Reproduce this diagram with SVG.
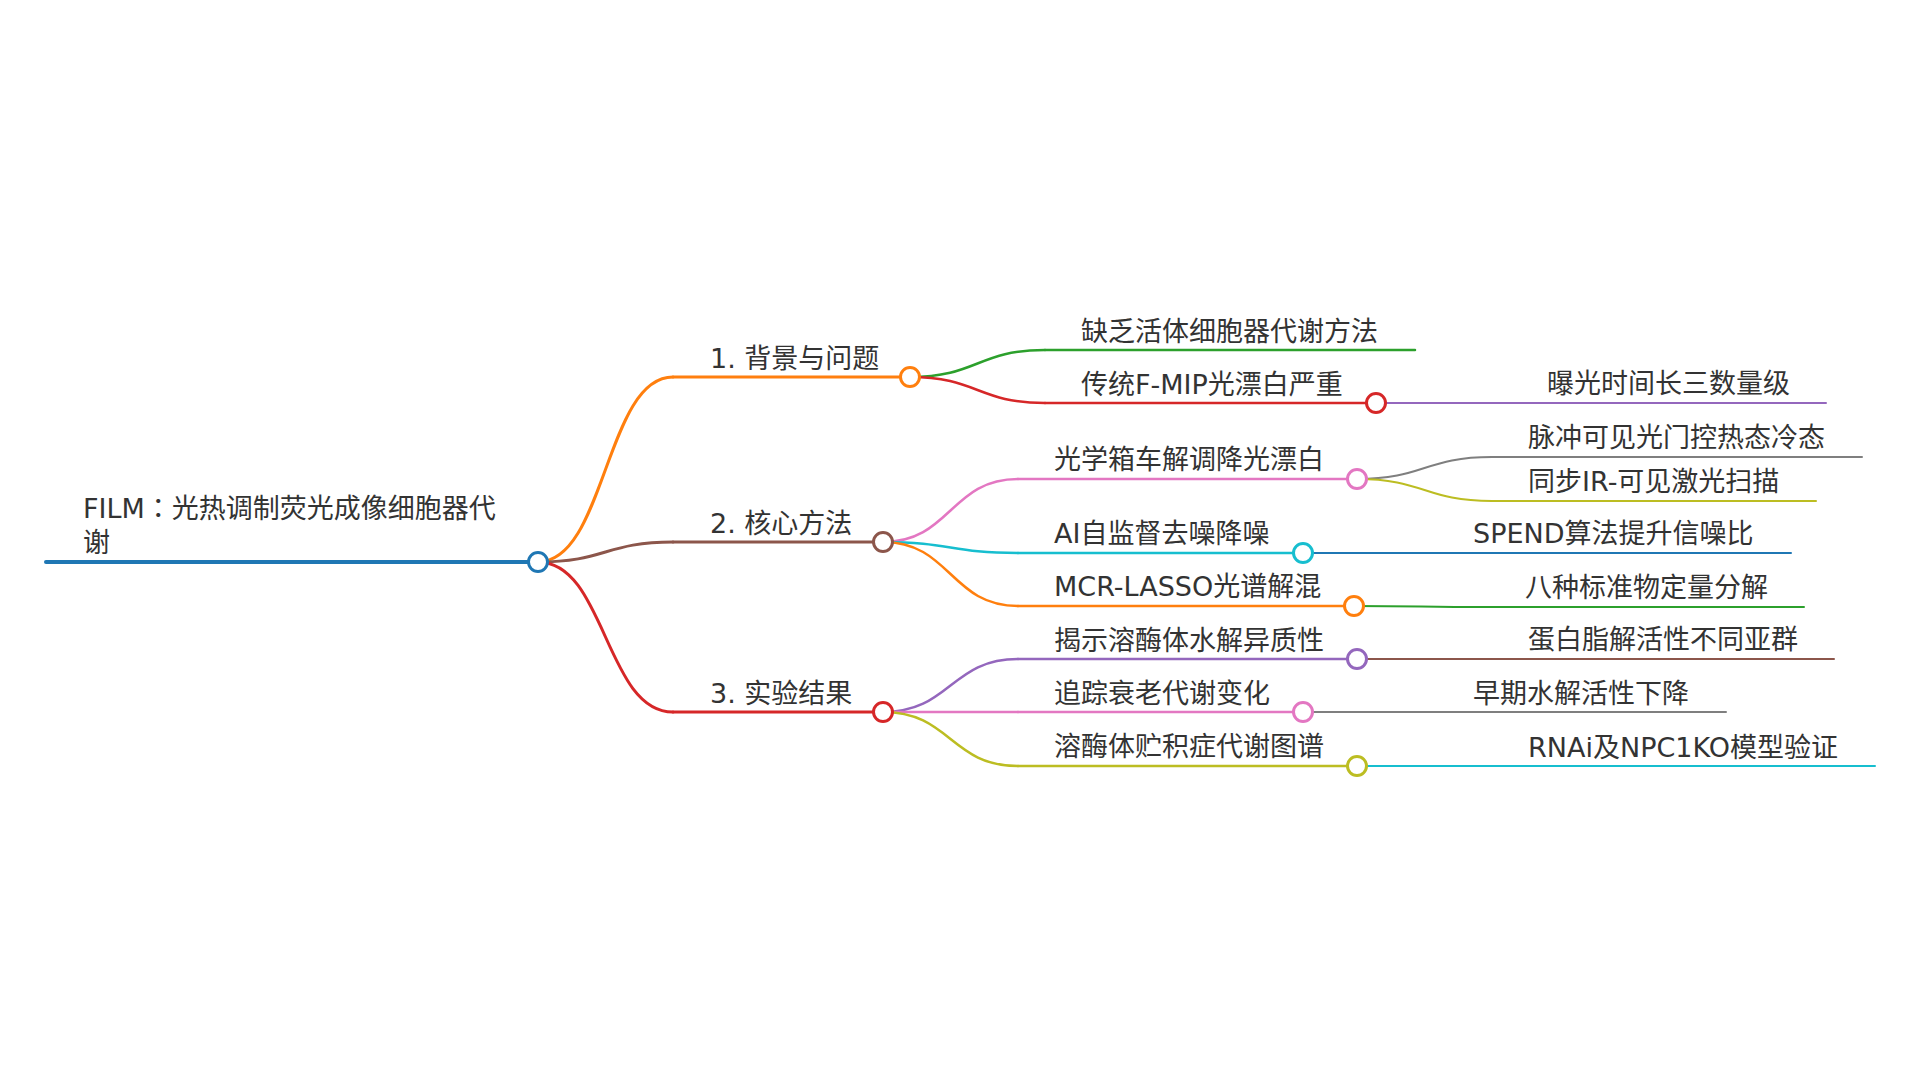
<svg xmlns="http://www.w3.org/2000/svg" width="1920" height="1080" viewBox="0 0 1920 1080">
<style>
text{font-family:"DejaVu Sans","Noto Sans CJK SC",sans-serif;font-size:27px;fill:#333}
.fw{font-family:"Noto Sans CJK JP","Noto Sans CJK SC",sans-serif}
path,line{fill:none;stroke-linecap:round}
circle{fill:#fff;stroke-width:3}
.l0{stroke-width:4}.l1{stroke-width:3}.l2{stroke-width:2.5}.l3{stroke-width:2}
.c0{stroke:#1f77b4}.c1{stroke:#ff7f0e}.c2{stroke:#2ca02c}.c3{stroke:#d62728}.c4{stroke:#9467bd}
.c5{stroke:#8c564b}.c6{stroke:#e377c2}.c7{stroke:#7f7f7f}.c8{stroke:#bcbd22}.c9{stroke:#17becf}
</style>
<rect width="1920" height="1080" fill="#fff"/>
<g id="connectors">
<path class="l1 c1" d="M538 562C605.5 562 605.5 377 673 377"/>
<path class="l1 c5" d="M538 562C605.5 562 605.5 542 673 542"/>
<path class="l1 c3" d="M538 562C605.5 562 605.5 712 673 712"/>
<path class="l2 c2" d="M910 377C977.5 377 977.5 350 1045 350"/>
<path class="l2 c3" d="M910 377C977.5 377 977.5 403 1045 403"/>
<path class="l3 c4" d="M1376 403H1510"/>
<path class="l2 c6" d="M883 542C950.5 542 950.5 479 1018 479"/>
<path class="l2 c9" d="M883 542C950.5 542 950.5 553 1018 553"/>
<path class="l2 c1" d="M883 542C950.5 542 950.5 606 1018 606"/>
<path class="l3 c7" d="M1357 479C1424.5 479 1424.5 457 1492 457"/>
<path class="l3 c8" d="M1357 479C1424.5 479 1424.5 501 1492 501"/>
<path class="l3 c0" d="M1303 553H1438"/>
<path class="l3 c2" d="M1354 606C1421 606 1421 607 1488 607"/>
<path class="l2 c4" d="M883 712C950.5 712 950.5 659 1018 659"/>
<path class="l2 c6" d="M883 712H1018"/>
<path class="l2 c8" d="M883 712C950.5 712 950.5 766 1018 766"/>
<path class="l3 c5" d="M1357 659H1492"/>
<path class="l3 c7" d="M1303 712H1438"/>
<path class="l3 c9" d="M1357 766H1492"/>
</g>
<g id="root">
<line class="l0 c0" x1="46" y1="562" x2="538" y2="562"/>
<text x="83" y="518">FILM<tspan class="fw">：</tspan>光热调制荧光成像细胞器代</text>
<text x="83" y="552">谢</text>
<circle class="c0" cx="538" cy="562" r="9.5"/>
</g>
<g id="n1">
<line class="l1 c1" x1="673" y1="377" x2="910" y2="377"/>
<text x="710" y="368">1. 背景与问题</text>
<circle class="c1" cx="910" cy="377" r="9.5"/>
</g>
<g id="n1-1">
<line class="l2 c2" x1="1045" y1="350" x2="1415" y2="350"/>
<text x="1081" y="341">缺乏活体细胞器代谢方法</text>
</g>
<g id="n1-2">
<line class="l2 c3" x1="1045" y1="403" x2="1376" y2="403"/>
<text x="1081" y="394">传统F-MIP光漂白严重</text>
<circle class="c3" cx="1376" cy="403" r="9.5"/>
</g>
<g id="n1-2-1">
<line class="l3 c4" x1="1510" y1="403" x2="1826" y2="403"/>
<text x="1547" y="393">曝光时间长三数量级</text>
</g>
<g id="n2">
<line class="l1 c5" x1="673" y1="542" x2="883" y2="542"/>
<text x="710" y="533">2. 核心方法</text>
<circle class="c5" cx="883" cy="542" r="9.5"/>
</g>
<g id="n2-1">
<line class="l2 c6" x1="1018" y1="479" x2="1357" y2="479"/>
<text x="1054" y="469">光学箱车解调降光漂白</text>
<circle class="c6" cx="1357" cy="479" r="9.5"/>
</g>
<g id="n2-1-1">
<line class="l3 c7" x1="1492" y1="457" x2="1862" y2="457"/>
<text x="1528" y="447">脉冲可见光门控热态冷态</text>
</g>
<g id="n2-1-2">
<line class="l3 c8" x1="1492" y1="501" x2="1816" y2="501"/>
<text x="1528" y="491">同步IR-可见激光扫描</text>
</g>
<g id="n2-2">
<line class="l2 c9" x1="1018" y1="553" x2="1303" y2="553"/>
<text x="1054" y="543">AI自监督去噪降噪</text>
<circle class="c9" cx="1303" cy="553" r="9.5"/>
</g>
<g id="n2-2-1">
<line class="l3 c0" x1="1438" y1="553" x2="1791" y2="553"/>
<text x="1473" y="543">SPEND算法提升信噪比</text>
</g>
<g id="n2-3">
<line class="l2 c1" x1="1018" y1="606" x2="1354" y2="606"/>
<text x="1054" y="596">MCR-LASSO光谱解混</text>
<circle class="c1" cx="1354" cy="606" r="9.5"/>
</g>
<g id="n2-3-1">
<line class="l3 c2" x1="1488" y1="607" x2="1804" y2="607"/>
<text x="1525" y="597">八种标准物定量分解</text>
</g>
<g id="n3">
<line class="l1 c3" x1="673" y1="712" x2="883" y2="712"/>
<text x="710" y="703">3. 实验结果</text>
<circle class="c3" cx="883" cy="712" r="9.5"/>
</g>
<g id="n3-1">
<line class="l2 c4" x1="1018" y1="659" x2="1357" y2="659"/>
<text x="1054" y="650">揭示溶酶体水解异质性</text>
<circle class="c4" cx="1357" cy="659" r="9.5"/>
</g>
<g id="n3-1-1">
<line class="l3 c5" x1="1492" y1="659" x2="1834" y2="659"/>
<text x="1528" y="649">蛋白脂解活性不同亚群</text>
</g>
<g id="n3-2">
<line class="l2 c6" x1="1018" y1="712" x2="1303" y2="712"/>
<text x="1054" y="703">追踪衰老代谢变化</text>
<circle class="c6" cx="1303" cy="712" r="9.5"/>
</g>
<g id="n3-2-1">
<line class="l3 c7" x1="1438" y1="712" x2="1726" y2="712"/>
<text x="1473" y="703">早期水解活性下降</text>
</g>
<g id="n3-3">
<line class="l2 c8" x1="1018" y1="766" x2="1357" y2="766"/>
<text x="1054" y="756">溶酶体贮积症代谢图谱</text>
<circle class="c8" cx="1357" cy="766" r="9.5"/>
</g>
<g id="n3-3-1">
<line class="l3 c9" x1="1492" y1="766" x2="1875" y2="766"/>
<text x="1528" y="757">RNAi及NPC1KO模型验证</text>
</g>
</svg>
